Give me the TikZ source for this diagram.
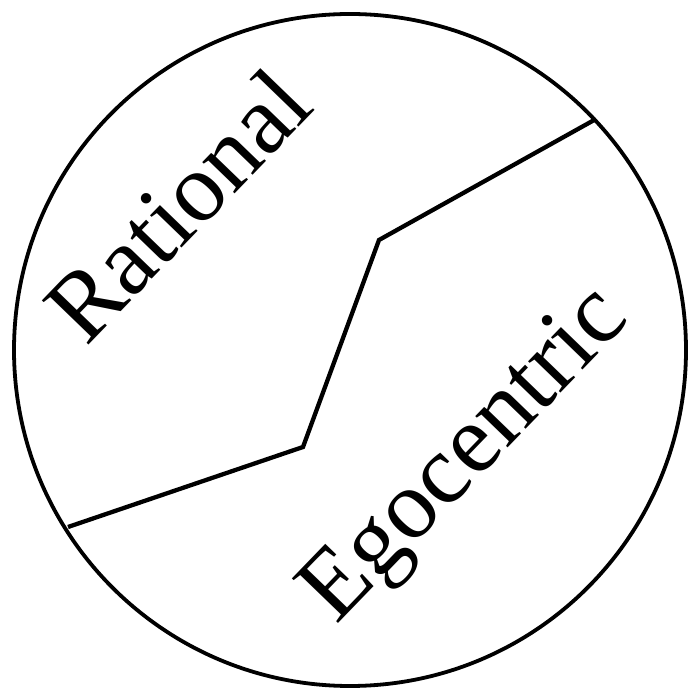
\documentclass[tikz,border=0pt]{standalone}
\usepackage{fontspec}
\setmainfont{Liberation Serif}
\begin{document}
\begin{tikzpicture}[x=1pt,y=1pt,
  outline/.style={draw=black,line width=3.8pt},
  divider/.style={draw=black,line width=4.3pt,line join=miter},
  label/.style={inner sep=0pt,anchor=base west,rotate=46,font=\fontsize{98}{98}\selectfont}]
\useasboundingbox (0,0) rectangle (688,688);
\node[outline,circle,minimum size=672pt,inner sep=0pt] (disc) at (350,338) {};
\coordinate (a) at (68,161);
\coordinate (b) at (303,241);
\coordinate (c) at (379,448);
\coordinate (d) at (596,569);
\draw[divider] (a) -- (b) -- (c) -- (d);
\node[label] (rat) at (86,340) {Rational};
\node[label] (ego) at (336,62) {Egocentric};
\end{tikzpicture}
\end{document}
